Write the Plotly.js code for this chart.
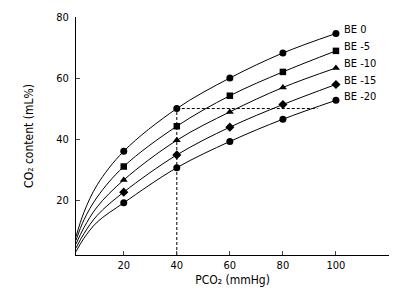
<!DOCTYPE html>
<html>
<head>
<meta charset="utf-8">
<script src="https://cdn.plot.ly/plotly-3.0.1.min.js"></script>
<style>
html,body{margin:0;padding:0;background:#fff;}
#chart{width:412px;height:302px;}
</style>
</head>
<body>
<div id="chart"></div>
<script>
// Data points (markers)
const pco2Points = [20, 40, 60, 80, 100];
const be0Points = [36, 50, 60, 68.2, 74.6];
const be5Points = [31, 44.2, 54.2, 62, 68.9];
const be10Points = [26.6, 39.6, 48.9, 56.9, 63.3];
const be15Points = [22.6, 34.8, 43.9, 51.3, 57.9];
const be20Points = [19.1, 30.6, 39.2, 46.5, 52.7];

// Curves (including the part near the axis)
const curveX = [2, 5, 10, 20, 40, 60, 80, 100];
const be0CurveY = [8, 16, 25, 36, 50, 60, 68.2, 74.6];
const be5CurveY = [6.8, 13.5, 21, 31, 44.2, 54.2, 62, 68.9];
const be10CurveY = [5.6, 11, 17.8, 26.6, 39.6, 48.9, 56.9, 63.3];
const be15CurveY = [4.3, 9, 15, 22.6, 34.8, 43.9, 51.3, 57.9];
const be20CurveY = [3.1, 7.5, 12.8, 19.1, 30.6, 39.2, 46.5, 52.7];

const seriesLabels = ['BE 0', 'BE -5', 'BE -10', 'BE -15', 'BE -20'];
const markerSymbols = ['circle', 'square', 'triangle-up', 'diamond', 'circle'];

// Dashed reference lines
const refVX = [40, 40];
const refVY = [2, 50];
const refHX = [40, 93];
const refHY = [50, 50];

const xTicks = [20, 40, 60, 80, 100];
const yTicks = [20, 40, 60, 80];

const curvesY = [be0CurveY, be5CurveY, be10CurveY, be15CurveY, be20CurveY];
const pointsY = [be0Points, be5Points, be10Points, be15Points, be20Points];

const FONT = '"DejaVu Sans Condensed", "DejaVu Sans", Verdana, sans-serif';
const traces = [];
curvesY.forEach((cy) => {
  traces.push({
    x: curveX, y: cy, mode: 'lines', type: 'scatter',
    line: {color: '#000', width: 1, shape: 'spline', smoothing: 1},
    hoverinfo: 'skip', showlegend: false
  });
});
traces.push({x: refVX, y: refVY, mode: 'lines', type: 'scatter',
  line: {color: '#000', width: 1, dash: '3px,2px'}, showlegend: false});
traces.push({x: refHX, y: refHY, mode: 'lines', type: 'scatter',
  line: {color: '#000', width: 1, dash: '3px,2px'}, showlegend: false});
pointsY.forEach((py, i) => {
  traces.push({
    x: pco2Points, y: py, mode: 'markers', type: 'scatter',
    marker: {color: '#000', size: markerSymbols[i] === 'square' ? 6.5 : 7, symbol: markerSymbols[i]},
    name: seriesLabels[i], showlegend: false
  });
});

const annotations = seriesLabels.map((lab, i) => ({
  x: pco2Points[pco2Points.length - 1],
  y: pointsY[i][pointsY[i].length - 1],
  text: lab, showarrow: false, xanchor: 'left', yanchor: 'middle',
  xshift: 6, yshift: 4,
  font: {family: FONT, size: 11, color: '#000'}
}));

const layout = {
  width: 412, height: 302,
  margin: {l: 76, r: 23, t: 17, b: 47},
  paper_bgcolor: '#fff', plot_bgcolor: '#fff',
  font: {family: FONT, size: 11, color: '#000'},
  xaxis: {
    range: [2, 120], tickvals: xTicks, ticks: 'inside', ticklen: 4,
    showgrid: false, zeroline: false, showline: true, linecolor: '#000', linewidth: 1,
    tickfont: {family: FONT, size: 11},
    title: {text: 'PCO₂ (mmHg)', font: {family: FONT, size: 12}, standoff: 4}
  },
  yaxis: {
    range: [2, 80], tickvals: yTicks, ticks: 'inside', ticklen: 4, ticklabelstandoff: 4,
    showgrid: false, zeroline: false, showline: true, linecolor: '#000', linewidth: 1,
    tickfont: {family: FONT, size: 11},
    title: {text: 'CO₂ content (mL%)', font: {family: FONT, size: 12}, standoff: 20}
  },
  annotations: annotations,
  showlegend: false
};

Plotly.newPlot('chart', traces, layout, {displayModeBar: false, staticPlot: true});
</script>
</body>
</html>
